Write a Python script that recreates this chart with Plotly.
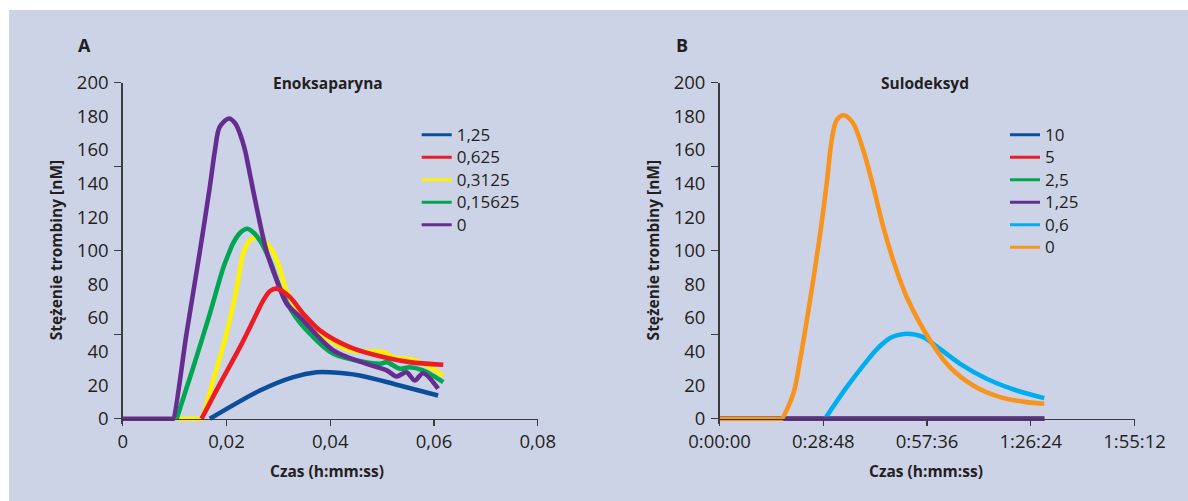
import plotly.graph_objects as go

# ---------------- data ----------------
# Time expressed as a fraction of a day (0.02 day = 0:28:48)
# Panel A (Enoksaparyna)
a_names = ["1,25", "0,625", "0,3125", "0,15625", "0"]
a_blue_x = [0.0168, 0.02645, 0.0329, 0.0374, 0.0399, 0.0457, 0.0534, 0.0608]
a_blue_y = [0, 16.8, 24.8, 27.7, 27.7, 25.8, 19.8, 13.9]
a_red_x = [0.0152, 0.01874, 0.0226, 0.0258, 0.0271, 0.0284, 0.0297, 0.0322, 0.0348, 0.038, 0.0438, 0.0502,
           0.0553, 0.0618]
a_red_y = [0, 20.8, 42.6, 62.5, 70.4, 76, 77.4, 72.4, 62.5, 52.6, 42.6, 36.7, 33.7, 32.1]
a_yellow_x = [0.0104, 0.0151, 0.0152, 0.01745, 0.02, 0.022, 0.0232, 0.0245, 0.0261, 0.0284, 0.03, 0.0316,
              0.034, 0.038, 0.0438, 0.0502, 0.0521, 0.056, 0.0586, 0.0618]
a_yellow_y = [0, 0, 0, 22.8, 50.6, 78, 98, 106, 108, 102, 92, 76, 64, 51, 40.7, 39.7, 36.7, 35.1, 31.7, 25.8]
a_green_x = [0.0104, 0.0136, 0.0168, 0.0194, 0.0204, 0.0213, 0.0226, 0.024, 0.0253, 0.02645, 0.0284, 0.0303,
             0.0329, 0.0361, 0.0406, 0.0496, 0.0509, 0.0534, 0.0553, 0.0579, 0.0618]
a_green_y = [0, 30.7, 62.5, 90, 98, 104.5, 110.5, 113, 110.5, 106, 94, 78, 62.5, 50.6, 38.7, 32.7, 33.7,
             29.8, 30.7, 28.8, 21.8]
a_purple_x = [0, 0.0096, 0.00975, 0.0123, 0.0149, 0.0168, 0.0178, 0.0187, 0.0205, 0.02169, 0.0226, 0.02358,
              0.0242, 0.0258, 0.0277, 0.0297, 0.0316, 0.0342, 0.0406, 0.047, 0.0509, 0.0528, 0.0547, 0.0563,
              0.0579, 0.0608]
a_purple_y = [0, 0, 0, 50.6, 100, 138, 160, 173.6, 178.6, 175.7, 169.6, 159.7, 150.5, 126, 100, 82.3, 68.5,
              60.5, 40.7, 32.7, 28.8, 25.2, 27.7, 22.8, 27.1, 17.9]

# Panel B (Sulodeksyd)
b_names = ["10", "5", "2,5", "1,25", "0,6", "0"]
b_zero_x = [0, 0.0626]
b_zero_y = [0, 0]
b_lblue_x = [0.02034, 0.02452, 0.029, 0.0303, 0.03158, 0.0329, 0.03416, 0.0361, 0.0393, 0.0412, 0.0464,
             0.0515, 0.0573, 0.0626]
b_lblue_y = [0, 18.8, 36.7, 41.3, 45, 48, 49.6, 50.6, 48.6, 44.6, 32.7, 23.8, 16.8, 12.3]
b_orange_x = [0, 0.0118, 0.012, 0.01423, 0.01552, 0.01745, 0.0194, 0.02067, 0.02163, 0.02259, 0.024, 0.02579,
              0.02772, 0.02965, 0.03158, 0.0335, 0.03609, 0.0406, 0.0444, 0.0489, 0.0541, 0.0592, 0.0626]
b_orange_y = [0, 0, 0, 14.9, 34.7, 70.4, 110, 140, 165.7, 177.6, 180.5, 175.6, 159.7, 137.9, 114, 94.2,
              72.4, 46.6, 30.7, 19.8, 12.9, 9.9, 8.9]

x_tickvals = [0, 0.02, 0.04, 0.06, 0.08]
a_ticktext = ["0", "0,02", "0,04", "0,06", "0,08"]
b_ticktext = ["0:00:00", "0:28:48", "0:57:36", "1:26:24", "1:55:12"]
y_tickvals = list(range(0, 201, 20))
y_marks = [0, 50, 100, 150, 200]

# ---------------- styling ----------------
W, H = 1188, 501
BG = "#CDD3E7"
AX = "#3c3c3c"
TXT = "#231f20"
FONT = "Open Sans"
LW = 4.6

C_BLUE, C_RED, C_YELLOW = "#0B4F9C", "#ED1C24", "#FFF200"
C_GREEN, C_PURPLE = "#00A651", "#662D91"
C_LBLUE, C_ORANGE = "#00AEEF", "#F7941D"


def px(x):
    return x / W


def py(y):
    return 1 - y / H


# pixel geometry of the plot areas
ya0, ya200 = 418.8, 82.5
ymin = -3.0
scale = (py(ya200) - py(ya0)) / 200.0
ydom = [py(ya0) + ymin * scale, py(ya200)]
XA0, XA1 = 122.7, 537.7
XB0, XB1 = 719.5, 1134.5

fig = go.Figure()


def add(xs, ys, name, color, xa, ya):
    fig.add_trace(go.Scatter(
        x=xs, y=ys, name=name, mode="lines", showlegend=False,
        line=dict(color=color, width=LW, shape="spline", smoothing=0.9),
        xaxis=xa, yaxis=ya, hoverinfo="skip"))


def add_legend(name, color, xa, ya, legend):
    fig.add_trace(go.Scatter(
        x=[None], y=[None], name='<span style="font-size:17px">' + name + "</span>", mode="lines",
        line=dict(color=color, width=3),
        xaxis=xa, yaxis=ya, legend=legend, hoverinfo="skip"))


# Panel A (draw order chosen to mimic overlaps)
add(a_blue_x, a_blue_y, a_names[0], C_BLUE, "x", "y")
add(a_yellow_x, a_yellow_y, a_names[2], C_YELLOW, "x", "y")
add(a_green_x, a_green_y, a_names[3], C_GREEN, "x", "y")
add(a_purple_x, a_purple_y, a_names[4], C_PURPLE, "x", "y")
add(a_red_x, a_red_y, a_names[1], C_RED, "x", "y")
for n, c in zip(a_names, [C_BLUE, C_RED, C_YELLOW, C_GREEN, C_PURPLE]):
    add_legend(n, c, "x", "y", "legend")

# Panel B
add(b_zero_x, b_zero_y, b_names[0], C_BLUE, "x2", "y2")
add(b_zero_x, b_zero_y, b_names[1], C_RED, "x2", "y2")
add(b_zero_x, b_zero_y, b_names[2], C_GREEN, "x2", "y2")
add(b_lblue_x, b_lblue_y, b_names[4], C_LBLUE, "x2", "y2")
add(b_zero_x, b_zero_y, b_names[3], C_PURPLE, "x2", "y2")
add(b_orange_x, b_orange_y, b_names[5], C_ORANGE, "x2", "y2")
for n, c in zip(b_names, [C_BLUE, C_RED, C_GREEN, C_PURPLE, C_LBLUE, C_ORANGE]):
    add_legend(n, c, "x2", "y2", "legend2")

tickfont = dict(family=FONT, size=18.5, color=TXT)


def xaxis(dom, ticktext):
    return dict(domain=dom, range=[0, 0.08], anchor="free", position=py(ya0),
                tickmode="array", tickvals=x_tickvals, ticktext=ticktext,
                ticks="outside", ticklen=6, tickwidth=1.4, tickcolor=AX,
                showline=True, linecolor=AX, linewidth=1.4, showgrid=False,
                zeroline=False, tickfont=tickfont, fixedrange=True, automargin=False)


def yaxis(anchor):
    return dict(domain=ydom, range=[ymin, 200], anchor=anchor,
                tickmode="array", tickvals=y_tickvals,
                ticks="outside", ticklen=9, tickcolor="rgba(0,0,0,0)",
                minor=dict(tickmode="array", tickvals=y_marks, ticks="outside",
                           ticklen=7, tickwidth=1.4, tickcolor=AX, showgrid=False),
                showline=True, linecolor=AX, linewidth=1.4, showgrid=False,
                zeroline=False, tickfont=tickfont, fixedrange=True, automargin=False)


legfont = dict(family=FONT, size=15, color=TXT)
fig.update_layout(
    width=W, height=H,
    margin=dict(l=0, r=0, t=0, b=0, pad=0, autoexpand=False),
    paper_bgcolor="white", plot_bgcolor="rgba(0,0,0,0)",
    font=dict(family=FONT, color=TXT),
    xaxis=xaxis([px(XA0), px(XA1)], a_ticktext),
    yaxis=yaxis("x"),
    xaxis2=xaxis([px(XB0), px(XB1)], b_ticktext),
    yaxis2=yaxis("x2"),
    legend=dict(x=px(416.7), y=py(118.6), xanchor="left", yanchor="top",
                bgcolor="rgba(0,0,0,0)", font=legfont, tracegroupgap=0,
                traceorder="normal"),
    legend2=dict(x=px(1005), y=py(118.6), xanchor="left", yanchor="top",
                 bgcolor="rgba(0,0,0,0)", font=legfont, tracegroupgap=0,
                 traceorder="normal"),
    shapes=[dict(type="rect", xref="paper", yref="paper",
                 x0=px(9), x1=1.0, y0=0.0, y1=py(10),
                 fillcolor=BG, line=dict(width=0), layer="below")],
)

bold = dict(family=FONT, size=15.5, color=TXT)
ann = [
    dict(text="<b>A</b>", x=px(85), y=py(45), font=dict(family=FONT, size=18, color=TXT)),
    dict(text="<b>B</b>", x=px(681.7), y=py(45), font=dict(family=FONT, size=18, color=TXT)),
    dict(text="<b>Enoksaparyna</b>", x=px(327.5), y=py(83), font=bold),
    dict(text="<b>Sulodeksyd</b>", x=px(924.8), y=py(83), font=bold),
    dict(text="<b>Stężenie trombiny [nM]</b>", x=px(56.3), y=py(250), textangle=-90, font=bold),
    dict(text="<b>Stężenie trombiny [nM]</b>", x=px(653.4), y=py(250), textangle=-90, font=bold),
    dict(text="<b>Czas (h:mm:ss)</b>", x=px(327), y=py(471), font=bold),
    dict(text="<b>Czas (h:mm:ss)</b>", x=px(926), y=py(471), font=bold),
]
for a in ann:
    a.update(xref="paper", yref="paper", showarrow=False, xanchor="center", yanchor="middle")
fig.update_layout(annotations=ann)

fig.write_html("out.html", config={"displayModeBar": False, "staticPlot": True},
               post_script="document.body.style.margin='0';")
